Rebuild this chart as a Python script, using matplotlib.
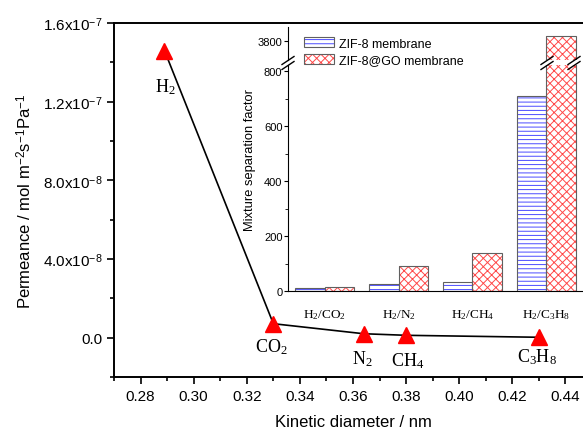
import matplotlib
matplotlib.use("Agg")
import matplotlib.pyplot as plt
from matplotlib.patches import Patch
from matplotlib.lines import Line2D
from matplotlib.ticker import MultipleLocator, FixedLocator
import numpy as np

plt.rcParams['font.family'] = ['Liberation Sans', 'DejaVu Sans']
plt.rcParams['mathtext.fontset'] = 'custom'
plt.rcParams['mathtext.rm'] = 'Liberation Serif'
plt.rcParams['mathtext.sf'] = 'Liberation Sans'
plt.rcParams['mathtext.default'] = 'rm'
plt.rcParams['hatch.linewidth'] = 0.7

# permeance vs kinetic diameter
gases = ['H$_2$', 'CO$_2$', 'N$_2$', 'CH$_4$', 'C$_3$H$_8$']
diameter = [0.289, 0.330, 0.364, 0.380, 0.430]
permeance = [1.46e-7, 7.1e-9, 2.0e-9, 1.2e-9, 2e-10]

# separation factors (inset)
pairs = ['H$_2$/CO$_2$', 'H$_2$/N$_2$', 'H$_2$/CH$_4$', 'H$_2$/C$_3$H$_8$']
sf_zif8 = [10, 25, 32, 710]
sf_zif8go = [15, 90, 137, 3818]

ytick_vals = [0.0, 4e-8, 8e-8, 1.2e-7, 1.6e-7]
ytick_text = ['0.0', r'4.0x10$^{\mathsf{-8}}$', r'8.0x10$^{\mathsf{-8}}$',
              r'1.2x10$^{\mathsf{-7}}$', r'1.6x10$^{\mathsf{-7}}$']

W, H = 583, 435
fig = plt.figure(figsize=(W / 100, H / 100), dpi=100)

def fx(px):
    return px / W

def fy(py):
    return 1 - py / H

BLUE = '#4a4aff'
RED = '#ff4848'
EDGE = '#606060'

# ---- main axes
ax = fig.add_axes([fx(114), fy(378), 478 / W, (378 - 24) / H])
ax.plot(diameter, permeance, color='black', lw=1.2, zorder=2)
ax.plot(diameter, permeance, ls='none', marker='^', ms=12, color='red',
        mec='red', zorder=3, clip_on=False)
ax.set_xlim(0.27, 0.45)
ax.set_ylim(-2e-8, 1.6e-7)
ax.xaxis.set_major_locator(MultipleLocator(0.02))
ax.xaxis.set_minor_locator(MultipleLocator(0.01))
ax.xaxis.set_major_formatter(matplotlib.ticker.FormatStrFormatter('%.2f'))
ax.yaxis.set_major_locator(FixedLocator(ytick_vals))
ax.set_yticklabels(ytick_text)
ax.yaxis.set_minor_locator(MultipleLocator(2e-8))
ax.tick_params(which='major', direction='out', length=5, width=1.2, labelsize=11)
ax.tick_params(which='minor', direction='out', length=3, width=1.2)
for s in ax.spines.values():
    s.set_linewidth(1.4)
ax.spines['right'].set_visible(False)
ax.set_xlabel('Kinetic diameter / nm', fontsize=12, labelpad=8)
ax.set_ylabel(r'Permeance / mol m$^{\mathsf{-2}}$s$^{\mathsf{-1}}$Pa$^{\mathsf{-1}}$',
              fontsize=12, labelpad=6)

# gas labels (offsets in pixels)
offsets = [(1, -36), (-2, -22), (-1, -24), (2, -25), (-2, -19)]
for name, x, y, off in zip(gases, diameter, permeance, offsets):
    ax.annotate(name, (x, y), xytext=off, textcoords='offset pixels',
                ha='center', va='center', fontsize=13, family='Liberation Serif')

# ---- inset: broken y axis
x = np.arange(len(pairs))
bw = 0.4
lo = fig.add_axes([fx(288), fy(292), (W - 288) / W, (292 - 66) / H], facecolor='none')
hi = fig.add_axes([fx(288), fy(61), (W - 288) / W, (61 - 28) / H], facecolor='none')

for a in (lo, hi):
    a.bar(x - bw / 2, sf_zif8, bw, color='white', edgecolor=BLUE,
          hatch='----', lw=0, zorder=1)
    a.bar(x + bw / 2, sf_zif8go, bw, color='white', edgecolor=RED,
          hatch='xxxx', lw=0, zorder=1)
    a.bar(x - bw / 2, sf_zif8, bw, fill=False, edgecolor=EDGE, lw=0.8, zorder=2)
    a.bar(x + bw / 2, sf_zif8go, bw, fill=False, edgecolor=EDGE, lw=0.8, zorder=2)
    a.set_xlim(-0.5, 3.5)
    a.spines['top'].set_visible(False)
    a.spines['right'].set_visible(False)
    a.tick_params(axis='y', direction='out', length=3, labelsize=8, pad=1)

lo.set_ylim(0, 822)
lo.yaxis.set_major_locator(MultipleLocator(200))
lo.yaxis.set_minor_locator(MultipleLocator(100))
lo.tick_params(axis='y', which='minor', length=2)
lo.set_xticks(x)
lo.set_xticklabels(pairs, family='Liberation Serif', fontsize=9.5)
lo.tick_params(axis='x', length=0, pad=12)
lo.set_ylabel('Mixture separation factor', fontsize=9.3)
lo.yaxis.set_label_coords(-0.108, 0.584)

hi.set_ylim(3731, 3851)
hi.set_yticks([3800])
hi.spines['bottom'].set_visible(False)
hi.tick_params(axis='x', bottom=False, labelbottom=False)

# break marks
def brk(px, py):
    for dy in (-2.5, 2.5):
        fig.add_artist(Line2D([fx(px - 6), fx(px + 6)], [fy(py + 4 + dy), fy(py - 4 + dy)],
                              color='black', lw=1.0))

brk(288, 64)
brk(547, 64)
brk(574, 64)

# legend
h1 = (Patch(facecolor='white', edgecolor=BLUE, hatch='----', lw=0),
      Patch(fill=False, edgecolor=EDGE, lw=0.8))
h2 = (Patch(facecolor='white', edgecolor=RED, hatch='xxxx', lw=0),
      Patch(fill=False, edgecolor=EDGE, lw=0.8))
fig.legend([h1, h2], ['ZIF-8 membrane', 'ZIF-8@GO membrane'], loc='upper left',
           bbox_to_anchor=(fx(304), fy(38)), frameon=False, fontsize=9,
           handlelength=2.4, handleheight=0.9, handletextpad=0.4,
           labelspacing=0.35, borderpad=0, borderaxespad=0)

fig.savefig('out.png', dpi=100)
